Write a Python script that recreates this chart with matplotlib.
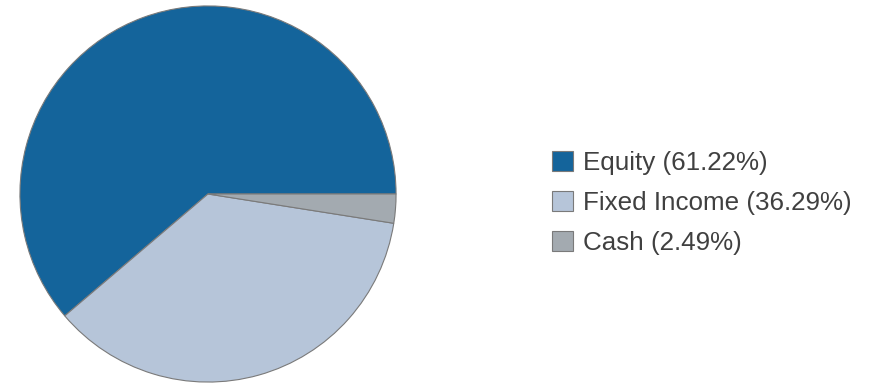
import matplotlib.pyplot as plt

labels = ['Equity', 'Fixed Income', 'Cash']
values = [61.22, 36.29, 2.49]
colors = ['#14649b', '#b6c5d9', '#a3aab0']

plt.rcParams['font.family'] = ['Liberation Sans', 'DejaVu Sans']

fig = plt.figure(figsize=(8.74, 3.84), dpi=100)
ax = fig.add_axes([19 / 874, 1 / 384, 378 / 874, 378 / 384])

wedges, _ = ax.pie(values, colors=colors, startangle=0, counterclock=True,
                   wedgeprops={'edgecolor': '#7a7a7a', 'linewidth': 0.8})
ax.set_xlim(-1.005, 1.005)
ax.set_ylim(-1.005, 1.005)
ax.set_aspect('equal')

legend_labels = [f'{l} ({v:.2f}%)' for l, v in zip(labels, values)]
leg = fig.legend(wedges, legend_labels, loc='center left',
                 bbox_to_anchor=(552 / 874, 1 - 203 / 384), frameon=False,
                 fontsize=18.75, handlelength=0.8, handleheight=0.8,
                 handletextpad=0.4, labelspacing=0.62,
                 borderpad=0, borderaxespad=0)
for t in leg.get_texts():
    t.set_color('#404040')

fig.savefig('out.png', dpi=100)
